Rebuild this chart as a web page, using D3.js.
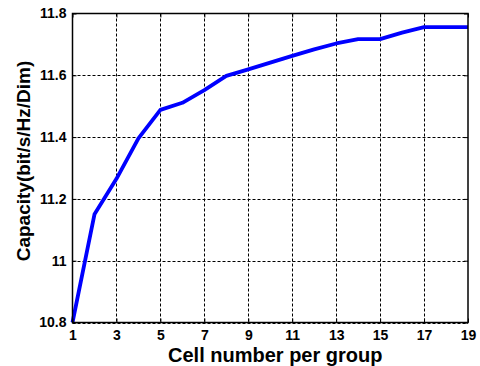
<!DOCTYPE html>
<html>
<head>
<meta charset="utf-8">
<script src="https://cdn.jsdelivr.net/npm/d3@7"></script>
<style>
  html, body { margin: 0; padding: 0; background: #fff; }
  svg { display: block; font-family: "Liberation Sans", Arial, sans-serif; }
</style>
</head>
<body>
<svg id="chart" width="480" height="366"></svg>
<script>
// Capacity versus number of cells per group
const cellNumbers = [1, 2, 3, 4, 5, 6, 7, 8, 9, 10, 11, 12, 13, 14, 15, 16, 17, 18, 19];
const capacity = [10.8, 11.15, 11.265, 11.396, 11.488, 11.511, 11.552, 11.598, 11.619, 11.641,
                  11.663, 11.684, 11.703, 11.717, 11.717, 11.738, 11.756, 11.756, 11.756];
const xTicks = [1, 3, 5, 7, 9, 11, 13, 15, 17, 19];
const yTicks = [10.8, 11, 11.2, 11.4, 11.6, 11.8];
const xLabel = "Cell number per group";
const yLabel = "Capacity(bit/s/Hz/Dim)";

const svg = d3.select("#chart");
const margin = { left: 72.5, right: 12, top: 13.5, bottom: 43.5 };
const W = 480, H = 366;
const x = d3.scaleLinear().domain([1, 19]).range([margin.left, W - margin.right]);
const y = d3.scaleLinear().domain([10.8, 11.8]).range([H - margin.bottom, margin.top]);

// dotted grid
const grid = svg.append("g").attr("stroke", "#000").attr("stroke-width", 1)
  .attr("stroke-dasharray", "3,2");
grid.selectAll(".gx").data(xTicks.slice(1, -1)).join("line")
  .attr("x1", d => Math.round(x(d)) + 0.5).attr("x2", d => Math.round(x(d)) + 0.5)
  .attr("y1", y(11.8)).attr("y2", y(10.8));
grid.selectAll(".gy").data(yTicks.slice(0, -1)).join("line")
  .attr("y1", d => Math.round(y(d)) + 0.5).attr("y2", d => Math.round(y(d)) + 0.5)
  .attr("x1", x(1)).attr("x2", x(19));

// data line
svg.append("path")
  .datum(cellNumbers.map((c, i) => [c, capacity[i]]))
  .attr("fill", "none").attr("stroke", "#0000ff").attr("stroke-width", 3.8)
  .attr("stroke-linejoin", "round")
  .attr("d", d3.line().x(d => x(d[0])).y(d => y(d[1])));

// axes (ticks pointing inward)
const axisStyle = g => {
  g.select(".domain").remove();
  g.selectAll("text").attr("font-weight", "bold").attr("font-size", "14px").attr("fill", "#000");
  g.selectAll("line").attr("stroke", "#000");
};
svg.append("g").attr("transform", `translate(0,${y(10.8)})`)
  .call(d3.axisBottom(x).tickValues(xTicks).tickFormat(d3.format("d")).tickSizeInner(-4).tickPadding(7.5))
  .call(axisStyle);
svg.append("g").attr("transform", `translate(${x(1)},0)`)
  .call(d3.axisLeft(y).tickValues(yTicks).tickFormat(d => d === 11 ? "11" : d3.format(".1f")(d)).tickSizeInner(-4).tickPadding(6))
  .call(axisStyle);
svg.append("g").attr("transform", `translate(0,${y(11.8)})`)
  .call(d3.axisTop(x).tickValues(xTicks).tickFormat("").tickSizeInner(-4)).call(axisStyle);
svg.append("g").attr("transform", `translate(${x(19)},0)`)
  .call(d3.axisRight(y).tickValues(yTicks).tickFormat("").tickSizeInner(-4)).call(axisStyle);

// box
svg.append("rect")
  .attr("x", x(1)).attr("y", y(11.8))
  .attr("width", x(19) - x(1)).attr("height", y(10.8) - y(11.8))
  .attr("fill", "none").attr("stroke", "#000").attr("stroke-width", 1.5);

// axis titles
svg.append("text").attr("x", (x(1) + x(19)) / 2 + 5).attr("y", 362)
  .attr("text-anchor", "middle").attr("font-weight", "bold").attr("font-size", "20px")
  .text(xLabel);
svg.append("text").attr("transform", `translate(30,${(y(10.8) + y(11.8)) / 2 - 7}) rotate(-90)`)
  .attr("text-anchor", "middle").attr("font-weight", "bold").attr("font-size", "19px")
  .text(yLabel);
</script>
</body>
</html>
